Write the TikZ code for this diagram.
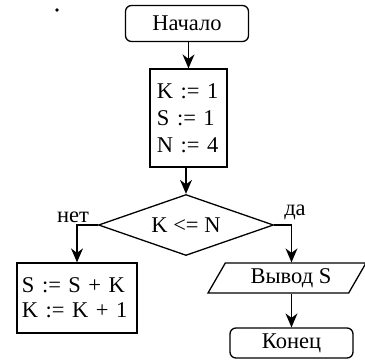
\documentclass[tikz,border=0pt]{standalone}
\usepackage{fontspec}
\setmainfont{Liberation Serif}
\usetikzlibrary{shapes.geometric,arrows.meta}
\tikzset{
  base/.style={draw, line width=1.3pt, font=\fontsize{22.5}{27}\selectfont, inner sep=0pt},
  term/.style={base, rounded corners=6pt, minimum width=123pt},
  proc/.style={base, align=left},
  cond/.style={base, diamond, aspect=2.87, minimum width=175pt, minimum height=61pt},
  io/.style={base, trapezium, trapezium left angle=48, trapezium right angle=132,
     trapezium stretches body, minimum width=158pt, minimum height=30pt},
  lbl/.style={font=\fontsize{22.5}{25}\selectfont, anchor=base, inner sep=0pt},
  arr/.style={line width=1.3pt, -{Stealth[length=14pt,width=12pt,inset=4.5pt]}},
}
\begin{document}
\begin{tikzpicture}[x=1pt,y=-1pt]
\useasboundingbox (0,0) rectangle (365,360);
\fill (57,10) circle (1.8pt);
\node[term, minimum height=36pt] (start) at (187,23.5) {Начало};
\node[proc, minimum height=98pt, text width=63pt, inner xsep=7pt] (init) at (188.5,118)
  {K := 1\\S := 1\\N := 4};
\node[cond] (if) at (186,225) {K <= N};
\node[proc, font=\fontsize{22.5}{25}\selectfont, minimum height=70pt, text width=110pt, inner xsep=5pt] (loop) at (77,298)
  {S := S + K\\K := K + 1};
\node[io] (out) at (287,278) {\hspace*{8pt}Вывод S};
\node[term, minimum height=30pt] (end) at (291.5,343) {Конец};
\node[lbl] (no) at (73,222) {нет};
\node[lbl] (yes) at (295,215) {да};
\draw[arr] (start.south -| init.north) -- (init.north);
\draw[arr] (init.south -| if.north) -- (if.north);
\draw[arr] (if.west) -| (loop.north);
\draw[arr] (if.east) -| (end.north |- out.north);
\draw[arr] (end.north |- out.south) -- (end.north);
\end{tikzpicture}
\end{document}
